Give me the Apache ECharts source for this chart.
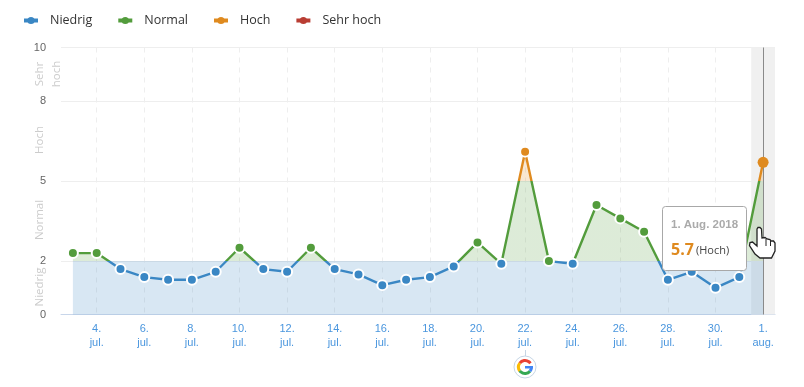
<!DOCTYPE html>
<html><head><meta charset="utf-8">
<style>html,body{margin:0;padding:0;background:#fff}#c{width:804px;height:387px}</style>
<script src="https://cdn.jsdelivr.net/npm/echarts@6/dist/echarts.min.js"></script>
</head><body><div id="c"></div>
<script>
const categories = ['3','4','5','6','7','8','9','10','11','12','13','14','15','16','17','18','19','20','21','22','23','24','25','26','27','28','29','30','31','1'];
const monthLabels = ['jul.','jul.','jul.','jul.','jul.','jul.','jul.','jul.','jul.','jul.','jul.','jul.','jul.','jul.','jul.','jul.','jul.','jul.','jul.','jul.','jul.','jul.','jul.','jul.','jul.','jul.','jul.','jul.','jul.','aug.'];
const values = [2.3,2.3,1.7,1.4,1.3,1.3,1.6,2.5,1.7,1.6,2.5,1.7,1.5,1.1,1.3,1.4,1.8,2.7,1.9,6.1,2.0,1.9,4.1,3.6,3.1,1.3,1.6,1.0,1.4,5.7];
const yTicks = [0,2,5,8,10];
const levelNames = ['Niedrig','Normal','Hoch','Sehr hoch'];
const levelColors = ['#3a87c4','#539c3c','#df8a1f','#b93d33'];
const zoneLabels = ['Niedrig','Normal','Hoch'];

const FONT = '"Open Sans", sans-serif';
const AXFONT = '"Liberation Sans", Arial, sans-serif';
const last = categories.length - 1;
const labels = categories.map((c,i)=>c+'.\n'+monthLabels[i]);

const pieces = cols => [
  {lt:2,color:cols[0]},{gte:2,lt:5,color:cols[1]},{gte:5,lt:8,color:cols[2]},{gte:8,color:cols[3]}
];
const chart = echarts.init(document.getElementById('c'),null,{renderer:'canvas'});

function zone(text,x,y){return {type:'text',x:x,y:y,rotation:Math.PI/2,z:1,silent:true,
  style:{text:text,fill:'#cccccc',font:'11.5px '+FONT,align:'center',verticalAlign:'middle'}};}

const G = {cx:525,cy:367,r:6.5};
function garc(a,b,color){return {type:'arc',silent:true,z:5,shape:{cx:G.cx,cy:G.cy,r:G.r,startAngle:a,endAngle:b,clockwise:true},
  style:{fill:null,stroke:color,lineWidth:3}};}

const graphics = [
  zone(zoneLabels[0],40,287), zone(zoneLabels[1],40,220), zone(zoneLabels[2],40,140),
  zone('Sehr',40,74), zone('hoch',56.5,74),
  {type:'line',silent:true,shape:{x1:525.5,y1:350,x2:525.5,y2:356},style:{stroke:'#c5d5e5',lineWidth:1}},
  {type:'circle',silent:true,shape:{cx:G.cx,cy:G.cy,r:11},style:{fill:'#fff',stroke:'#c5d5e5',lineWidth:1}},
  garc(-2.5,-0.6,'#e94235'), garc(-3.8,-2.5,'#fbbc05'), garc(0.7,2.5,'#34a853'),
  garc(0,0.7,'#4285f4'),
  {type:'rect',silent:true,z:5,shape:{x:525,y:366,width:8,height:2.5},style:{fill:'#4285f4'}},
  {type:'rect',silent:true,z:20,shape:{x:662.5,y:206.5,width:84,height:64,r:3},style:{fill:'#fff',stroke:'#a8a8a8',lineWidth:1}},
  {type:'text',silent:true,z:21,x:671,y:225,style:{text:'1. Aug. 2018',fill:'#aaaaaa',font:'bold 11.5px "Liberation Sans", Arial',verticalAlign:'middle'}},
  {type:'text',silent:true,z:21,x:671,y:250,style:{text:'5.7',fill:'#df8a1f',font:'bold 16px '+FONT,verticalAlign:'middle'}},
  {type:'text',silent:true,z:21,x:696,y:251,style:{text:'(Hoch)',fill:'#444',font:'11px '+FONT,verticalAlign:'middle'}},
  {type:'polygon',silent:true,z:30,shape:{points:[[757,229],[758,227.5],[760,227.5],[761.5,229],[762,238],[765,237.5],[767,239],[770,239.5],[771,241],[773.5,241],[775,243],[775,251],[771.5,258],[760,258],[755,254],[749.5,245.5],[750,242.5],[752.5,242],[757,246]]},
    style:{fill:'#fff',stroke:'#222',lineWidth:1.3}},
  {type:'line',silent:true,z:31,shape:{x1:766,y1:239,x2:766,y2:246},style:{stroke:'#222',lineWidth:1}},
  {type:'line',silent:true,z:31,shape:{x1:770.5,y1:241,x2:770.5,y2:246},style:{stroke:'#222',lineWidth:1}}
];

const legendSeries = levelNames.map((n,i)=>({
  name:n,type:'line',data:[],symbol:'circle',symbolSize:9,
  itemStyle:{color:levelColors[i]},lineStyle:{color:levelColors[i],width:4}
}));

chart.setOption({
  animation:false,
  textStyle:{fontFamily:FONT},
  legend:{
    data:levelNames,left:22,top:14,padding:0,itemGap:24,itemWidth:14,itemHeight:9,
    lineStyle:{width:4},
    textStyle:{color:'#333',fontSize:12.5,fontFamily:FONT,padding:[0,0,0,7]},
    selectedMode:false
  },
  grid:{left:61,right:29,top:47.5,height:267,containLabel:false},
  xAxis:{
    type:'category',data:labels,boundaryGap:true,
    axisLine:{lineStyle:{color:'#c8d6ea',width:1}},
    axisTick:{show:false,alignWithLabel:true},
    axisLabel:{
      interval:(i)=>i%2===1,margin:7,lineHeight:14,fontSize:11,fontFamily:AXFONT,
      color:(v,i)=>i===last?'#777777':'#4a96de'
    },
    splitLine:{show:true,alignWithLabel:true,interval:(i)=>i%2===1,lineStyle:{color:'#eeeeee',type:[5,5],width:1}}
  },
  yAxis:{
    type:'value',min:0,max:10,
    axisLine:{show:false},
    axisTick:{show:false,customValues:yTicks},
    axisLabel:{customValues:yTicks,margin:15,fontSize:11,fontFamily:AXFONT,color:'#666'},
    splitLine:{show:true,lineStyle:{color:'#eeeeee',width:1}}
  },
  visualMap:[
    {type:'piecewise',show:false,dimension:1,seriesIndex:1,pieces:pieces(['rgba(0,0,0,0)',levelColors[1],levelColors[2],levelColors[3]])},
    {type:'piecewise',show:false,dimension:1,seriesIndex:2,pieces:pieces(levelColors)}
  ],
  series:[
    {type:'bar',silent:true,barWidth:'100%',z:0,
      data:categories.map((c,i)=>i===last?10:null),
      itemStyle:{color:'#f0f0f0'},
      markLine:{silent:true,symbol:'none',z:3,label:{show:false},lineStyle:{color:'#8a8a8a',width:1,type:'solid'},
        data:[{xAxis:last}]}
    },
    {type:'line',silent:true,z:2,data:values,showSymbol:false,lineStyle:{width:0},
      areaStyle:{opacity:0.2},
      markArea:{silent:true,z:2,itemStyle:{color:levelColors[0],opacity:0.2},
        data:[[{xAxis:0,yAxis:0},{xAxis:last,yAxis:yTicks[1]}]]}
    },
    {type:'line',silent:true,z:4,data:values.map((v,i)=>i===last?{value:v,symbolSize:11,itemStyle:{borderWidth:0}}:v),
      symbol:'circle',symbolSize:10,showAllSymbol:true,
      lineStyle:{width:2.4},
      itemStyle:{borderColor:'#fff',borderWidth:2}
    },
    ...legendSeries
  ],
  graphic:graphics
});
</script></body></html>
